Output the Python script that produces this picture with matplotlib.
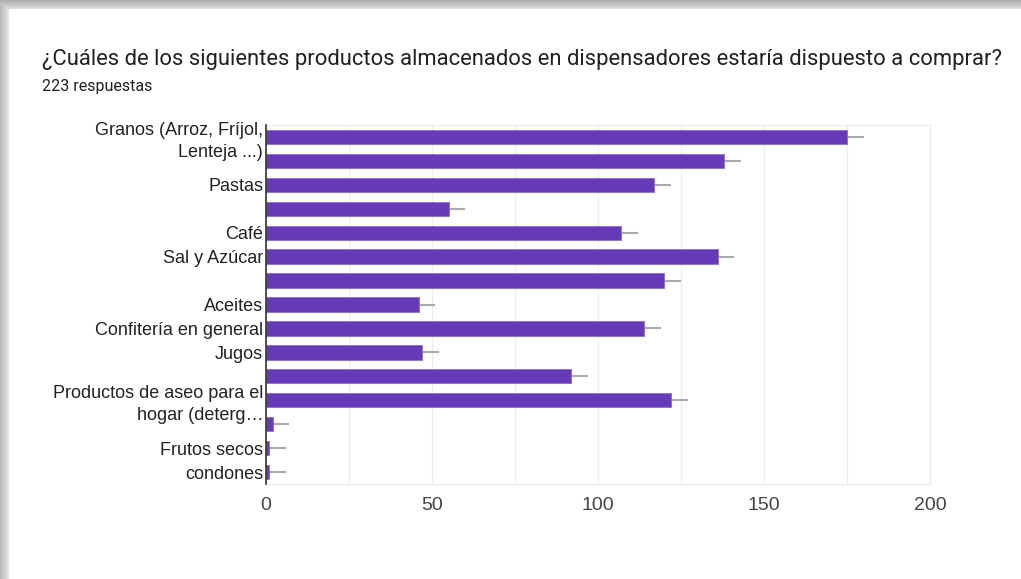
import numpy as np
import matplotlib
matplotlib.use('Agg')
import matplotlib.pyplot as plt

# data
categories = ['Granos (Arroz, Fríjol,\nLenteja ...)', '', 'Pastas', '', 'Café',
              'Sal y Azúcar', '', 'Aceites', 'Confitería en general', 'Jugos',
              '', 'Productos de aseo para el\nhogar (deterg…', '', 'Frutos secos',
              'condones']
values = [175, 138, 117, 55, 107, 136, 120, 46, 114, 47, 92, 122, 2, 1, 1]
err = [5] * len(values)

title = '¿Cuáles de los siguientes productos almacenados en dispensadores estaría dispuesto a comprar?'
subtitle = '223 respuestas'

fig = plt.figure(figsize=(10.21, 5.79), dpi=100)
fig.patch.set_facecolor('white')

# card shadow at the top and left edges
bg = fig.add_axes([0, 0, 1, 1])
W, H = 1021, 579
img = np.ones((H, W))
sh = 9
ramp = np.linspace(0.68, 0.86, sh)
for i in range(sh):
    img[i, :] = np.minimum(img[i, :], ramp[i])
    img[:, i] = np.minimum(img[:, i], ramp[i] + 0.04)
bg.imshow(img, cmap='gray', vmin=0, vmax=1, aspect='auto', extent=[0, 1, 0, 1])
bg.set_axis_off()

fig.text(42 / W, 1 - 60 / H, title, fontsize=15.8, family='Roboto',
         color='#202124', va='center', ha='left')
fig.text(42 / W, 1 - 87 / H, subtitle, fontsize=11.5, family='Roboto',
         color='#202124', va='center', ha='left')

ax = fig.add_axes([266 / W, 1 - 484 / H, (930 - 266) / W, (484 - 125) / H])
y = np.arange(len(values))
ax.errorbar(values, y, xerr=err, fmt='none', ecolor='#ababab', elinewidth=1.5,
            capsize=0, zorder=2)
ax.barh(y, values, height=0.6, color='#673ab7', edgecolor='#8e6bd0',
        linewidth=0.6, zorder=3)

ax.set_xlim(0, 200)
ax.set_ylim(len(values) - 0.5, -0.5)
ax.set_xticks([0, 50, 100, 150, 200])
ax.set_xticks([25, 75, 125, 175], minor=True)
ax.set_yticks(y)
ax.set_yticklabels(categories, fontsize=13, family='Liberation Sans',
                   color='#222222', linespacing=1.35)
for lab in ax.get_xticklabels():
    lab.set_fontsize(14)
    lab.set_family('Liberation Sans')
    lab.set_color('#444444')
ax.tick_params(axis='both', which='both', length=0)
ax.tick_params(axis='x', pad=9)
ax.tick_params(axis='y', pad=2)
ax.grid(True, axis='x', which='both', color='#ececec', linewidth=1, zorder=0)
ax.set_axisbelow(True)
for s in ['top', 'right', 'bottom']:
    ax.spines[s].set_color('#ececec')
ax.spines['left'].set_color('#333333')
ax.spines['left'].set_linewidth(1.2)
ax.spines['left'].set_zorder(4)

fig.savefig('out.png', dpi=100)
